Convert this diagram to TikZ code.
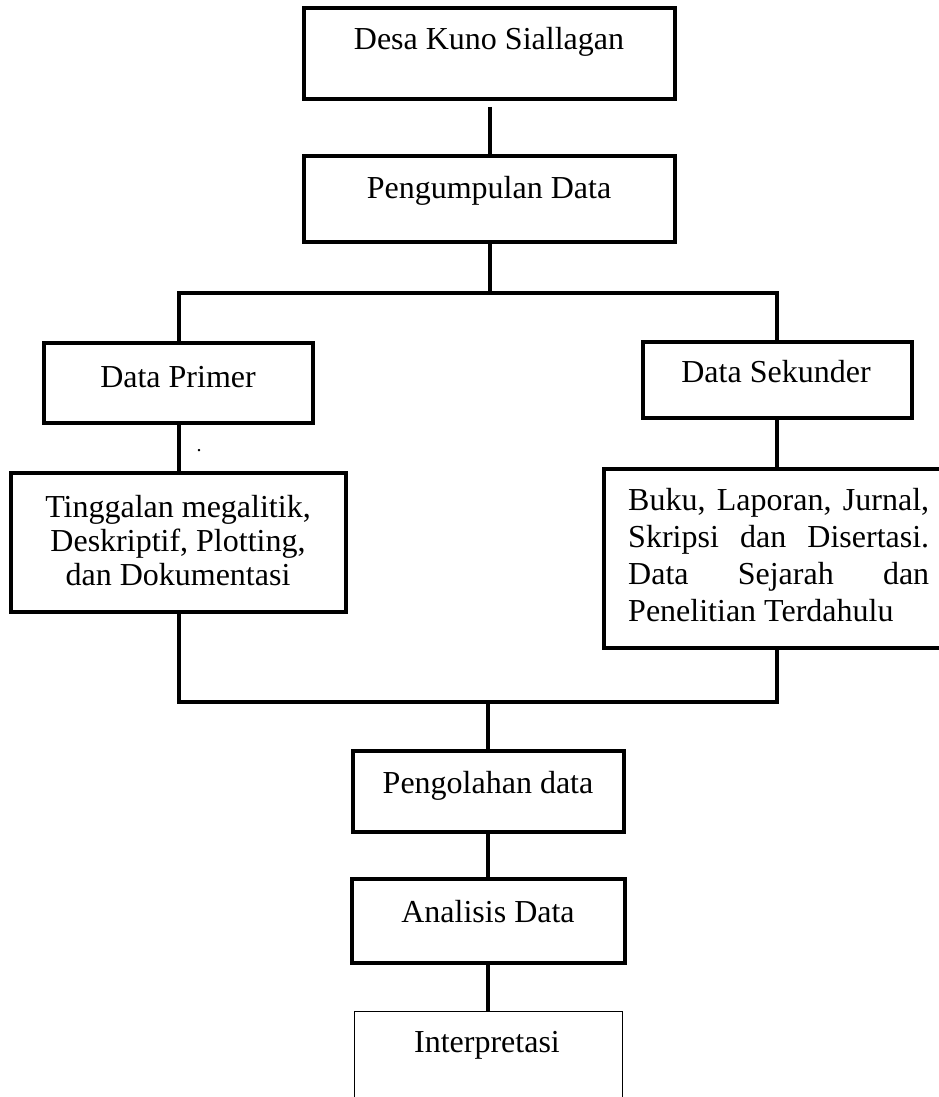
\documentclass[tikz,border=0pt]{standalone}
\usepackage{fontspec}
\setmainfont{Liberation Serif}
\newcommand{\bukuLine}[1]{\makebox[301pt][s]{#1}}

\begin{document}
\begin{tikzpicture}[x=1pt,y=-1pt,
  box/.style={draw, line width=4pt, inner sep=0pt},
  thinbox/.style={draw, line width=1pt, inner sep=0pt},
  wire/.style={line width=4pt, line join=miter},
  txt/.style={anchor=base, inner sep=0pt, font=\fontsize{32pt}{35pt}\selectfont}]
\useasboundingbox (0,0) rectangle (939,1097);
\node[box, minimum width=371pt, minimum height=91pt] (desa) at (489.5,53.5) {};
\node[box, minimum width=371pt, minimum height=86pt] (kumpul) at (489.5,199) {};
\node[box, minimum width=269pt, minimum height=80pt] (primer) at (178.5,383) {};
\node[box, minimum width=269pt, minimum height=76pt] (sekunder) at (777,380) {};
\node[box, minimum width=335pt, minimum height=139pt] (tinggalan) at (178.5,542.5) {};
\node[box, minimum width=347pt, minimum height=179pt] (buku) at (777,558.5) {};
\node[box, minimum width=271pt, minimum height=81pt] (olah) at (488,791.5) {};
\node[box, minimum width=273pt, minimum height=84pt] (analisis) at (488,921) {};
\node[thinbox, minimum width=268pt, minimum height=120pt] (interp) at (488,1071) {};
\node[txt] (t-desa) at (489,50) {Desa Kuno Siallagan};
\node[txt] (t-kumpul) at (489,198) {Pengumpulan Data};
\node[txt] (t-primer) at (178,387) {Data Primer};
\node[txt] (t-sekunder) at (776,382) {Data Sekunder};
\node[txt, font=\fontsize{20pt}{22pt}\selectfont] (t-dot) at (199,451) {.};
\node[txt] (t-ting-1) at (178,517) {Tinggalan megalitik,};
\node[txt] (t-ting-2) at (178,551) {Deskriptif, Plotting,};
\node[txt] (t-ting-3) at (178,585) {dan Dokumentasi};
\node[txt, anchor=base west] (t-buku-1) at (628,510) {\bukuLine{Buku, Laporan, Jurnal,}};
\node[txt, anchor=base west] (t-buku-2) at (628,547) {\bukuLine{Skripsi dan Disertasi.}};
\node[txt, anchor=base west] (t-buku-3) at (628,584) {\bukuLine{Data Sejarah dan}};
\node[txt, anchor=base west] (t-buku-4) at (628,621) {Penelitian Terdahulu};
\node[txt] (t-olah) at (488,793) {Pengolahan data};
\node[txt] (t-analisis) at (488,922) {Analisis Data};
\node[txt] (t-interp) at (487,1052) {Interpretasi};
\coordinate (busA) at (489.5,293);
\coordinate (busB) at (488,702);
\draw[wire, shorten <=6pt] (desa) -- (kumpul);
\draw[wire] (kumpul) -- (busA);
\draw[wire] (primer) |- (busA) -| (sekunder);
\draw[wire] (primer) -- (tinggalan);
\draw[wire] (sekunder) -- (buku);
\draw[wire] (tinggalan) |- (busB) -| (buku);
\draw[wire] (busB) -- (olah);
\draw[wire] (olah) -- (analisis);
\draw[wire] (analisis) -- (interp);
\end{tikzpicture}
\end{document}
